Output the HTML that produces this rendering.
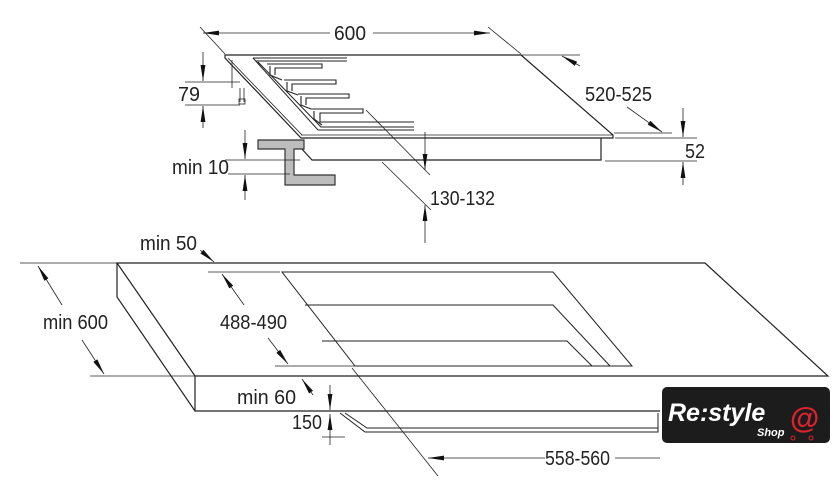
<!DOCTYPE html>
<html><head><style>
html,body{margin:0;padding:0;background:#fff}
svg{display:block}
text.d{font-family:"Liberation Sans Narrow","Liberation Sans",sans-serif;font-size:20px;fill:#222}
</style></head><body>
<svg width="840" height="491" viewBox="0 0 840 491" xmlns="http://www.w3.org/2000/svg">
<defs>
<marker id="b" viewBox="0 0 20 10" refX="20" refY="5" markerWidth="16" markerHeight="8" orient="auto-start-reverse" markerUnits="userSpaceOnUse"><path d="M0,2 L20,5 L0,8 z" fill="#111"/></marker>
</defs>
<g stroke="#222" stroke-width="1.2" fill="none">
<path d="M225,55 L521,55 L613,135 L613,138 L301,138 L225,58 Z" fill="#fff"/>
<line x1="228" y1="58" x2="302" y2="135" stroke-width="0.8"/>
<line x1="301" y1="135" x2="613" y2="135" stroke-width="0.8"/>
<path d="M601,138 L601,160 L312,160 L301,148"/>
<path d="M232,60 L232,88 M240,88 L240,102 M244,88 L244,102" stroke-width="0.8"/>
<rect x="239" y="99" width="6" height="5" stroke-width="0.8"/>
<path d="M253,58 L347,58 M256,61 L347,61" stroke-width="1"/>
<path d="M253,58 L318,130 L414,130 M258,62 L321,127 L414,127" stroke-width="1"/>
<path d="M267,64 L322,64 L322,68 L275,68 L275,75 M270,66 L270,75 L282,80" stroke-width="1.1"/>
<path d="M284,80 L336,80 L336,84 L292,84 L292,91 M287,82 L287,91 L298,95" stroke-width="1.1"/>
<path d="M298,94 L349,94 L349,98 L306,98 L306,105 M301,96 L301,105 L311,109" stroke-width="1.1"/>
<path d="M311,109 L363,109 L363,113 L320,113 L320,122 L414,122 M314,111 L314,119 L322,125" stroke-width="1.1"/>
</g>
<path d="M258,140 L304,140 L304,149 L294,149 L294,175 L335,175 L335,185 L285,185 L285,149 L258,149 Z" fill="#bdbdbd" stroke="#333" stroke-width="1.2"/>
<g stroke="#222" stroke-width="0.8" fill="none">
<line x1="200" y1="27" x2="225" y2="54"/><line x1="488" y1="27" x2="521" y2="54"/>
<line x1="330" y1="33" x2="203" y2="33" marker-end="url(#b)"/>
<line x1="373" y1="33" x2="490" y2="33" marker-end="url(#b)"/>
<line x1="521" y1="55" x2="580" y2="55"/>
<line x1="580" y1="66" x2="562" y2="56" marker-end="url(#b)"/>
<line x1="627" y1="107" x2="662" y2="132" marker-end="url(#b)"/>
<line x1="614" y1="133" x2="672" y2="133"/>
<line x1="615" y1="138" x2="697" y2="138"/><line x1="605" y1="161" x2="697" y2="161"/>
<line x1="683" y1="108" x2="683" y2="137" marker-end="url(#b)"/>
<line x1="683" y1="185" x2="683" y2="162" marker-end="url(#b)"/>
<line x1="185" y1="82" x2="240" y2="82"/><line x1="185" y1="105" x2="240" y2="105"/>
<line x1="203" y1="52" x2="203" y2="81" marker-end="url(#b)"/>
<line x1="203" y1="128" x2="203" y2="106" marker-end="url(#b)"/>
<line x1="225" y1="160" x2="300" y2="160"/><line x1="228" y1="174" x2="290" y2="174"/>
<line x1="245" y1="130" x2="245" y2="159" marker-end="url(#b)"/>
<line x1="245" y1="200" x2="245" y2="175" marker-end="url(#b)"/>
<line x1="366" y1="110" x2="430" y2="175"/><line x1="382" y1="162" x2="431" y2="210"/>
<line x1="425" y1="132" x2="425" y2="170" marker-end="url(#b)"/>
<line x1="425" y1="243" x2="425" y2="205" marker-end="url(#b)"/>
</g>
<g stroke="#222" stroke-width="1.2" fill="none">
<path d="M117,263 L705,263 L828,376 L195,376 Z"/>
<path d="M117,263 L117,297 L195,411 L660,411 M195,376 L195,411"/>
<path d="M282,272 L553,272 L632,366 L355,366 Z" stroke-width="1"/>
<path d="M305,305 L553,305 L610,366 M322,341 L567,341 L592,366" stroke-width="1"/>
<path d="M340,413 L365,432 L658,432 L658,413 M345,413 L367,428 L658,428" stroke-width="1"/>
</g>
<g stroke="#222" stroke-width="0.8" fill="none">
<line x1="200" y1="250" x2="214" y2="262" marker-end="url(#b)"/>
<line x1="20" y1="263" x2="117" y2="263"/><line x1="90" y1="376" x2="195" y2="376"/>
<line x1="62" y1="305" x2="38" y2="266" marker-end="url(#b)"/>
<line x1="82" y1="340" x2="104" y2="374" marker-end="url(#b)"/>
<line x1="208" y1="272" x2="280" y2="272"/><line x1="275" y1="366" x2="355" y2="366"/>
<line x1="244" y1="305" x2="222" y2="274" marker-end="url(#b)"/>
<line x1="268" y1="338" x2="288" y2="364" marker-end="url(#b)"/>
<line x1="313" y1="395" x2="302" y2="379" marker-end="url(#b)"/>
<line x1="330" y1="385" x2="330" y2="410" marker-end="url(#b)"/>
<line x1="330" y1="445" x2="330" y2="414" marker-end="url(#b)"/>
<line x1="322" y1="437" x2="345" y2="437"/>
<line x1="352" y1="368" x2="438" y2="476"/>
<line x1="545" y1="458" x2="428" y2="458" marker-end="url(#b)"/>
<line x1="615" y1="458" x2="660" y2="458"/>
</g>
<text class="d" x="334" y="40" textLength="32" lengthAdjust="spacingAndGlyphs">600</text>
<text class="d" x="585" y="101" textLength="67" lengthAdjust="spacingAndGlyphs">520-525</text>
<text class="d" x="685" y="158" textLength="20" lengthAdjust="spacingAndGlyphs">52</text>
<text class="d" x="178" y="101" textLength="22" lengthAdjust="spacingAndGlyphs">79</text>
<text class="d" x="172" y="174" textLength="57" lengthAdjust="spacingAndGlyphs">min 10</text>
<text class="d" x="430" y="205" textLength="65" lengthAdjust="spacingAndGlyphs">130-132</text>
<text class="d" x="140" y="250" textLength="57" lengthAdjust="spacingAndGlyphs">min 50</text>
<text class="d" x="43" y="329" textLength="65" lengthAdjust="spacingAndGlyphs">min 600</text>
<text class="d" x="220" y="329" textLength="67" lengthAdjust="spacingAndGlyphs">488-490</text>
<text class="d" x="237" y="404" textLength="59" lengthAdjust="spacingAndGlyphs">min 60</text>
<text class="d" x="292" y="429" textLength="30" lengthAdjust="spacingAndGlyphs">150</text>
<text class="d" x="545" y="465" textLength="65" lengthAdjust="spacingAndGlyphs">558-560</text>
<rect x="662" y="387" width="168" height="56" rx="5" fill="#1c1c1c"/>
<text x="668" y="421" style="font-family:'Liberation Sans',sans-serif;font-size:25px;font-style:italic;font-weight:bold;fill:#fff">Re:style</text>
<text x="757" y="436" style="font-family:'Liberation Sans',sans-serif;font-size:11px;font-style:italic;font-weight:bold;fill:#fff">Shop</text>
<text x="790" y="428" style="font-family:'Liberation Sans',sans-serif;font-size:30px;font-weight:bold;fill:#d9232d">@</text>
<circle cx="793" cy="438" r="2" fill="none" stroke="#d9232d"/><circle cx="811" cy="438" r="2" fill="none" stroke="#d9232d"/>
</svg>
</body></html>
